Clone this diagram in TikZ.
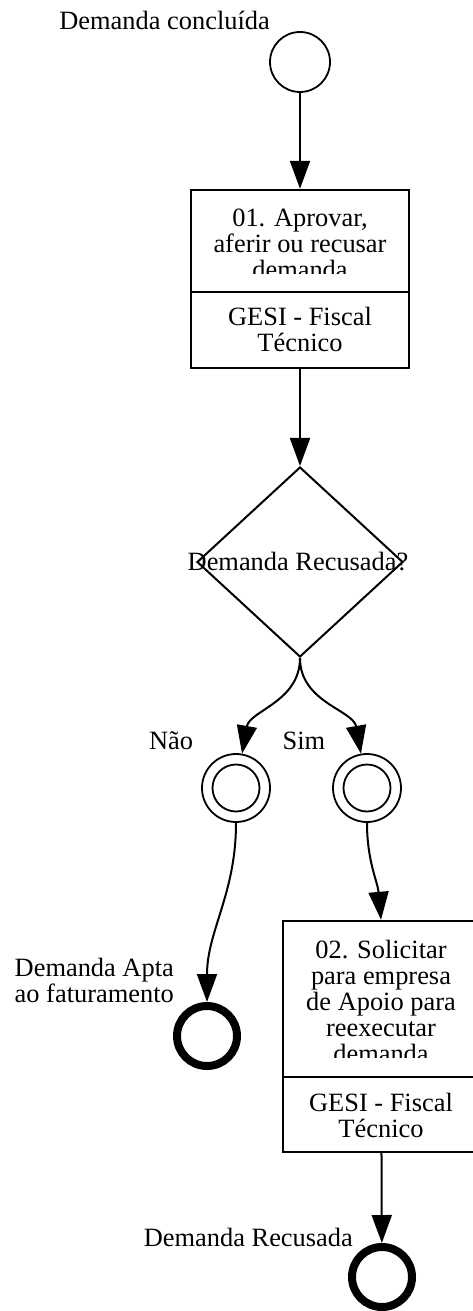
\documentclass[tikz,border=0pt]{standalone}
\usepackage{fontspec}
\setmainfont{Liberation Serif}
\usetikzlibrary{shapes.geometric,arrows.meta}
\tikzset{
  lbl/.style={font=\fontsize{26.4pt}{26pt}\selectfont, inner sep=0pt, align=center},
  startev/.style={circle, draw, line width=1.8pt, minimum size=60pt, inner sep=0pt},
  midev/.style={circle, draw, line width=1.8pt, minimum size=68pt, inner sep=0pt,
    path picture={\draw[line width=1.8pt] (path picture bounding box.center) circle (23.5pt);}},
  endev/.style={circle, draw, line width=8pt, minimum size=60pt, inner sep=0pt},
  task/.style={rectangle, draw, line width=2.4pt, inner sep=0pt},
  gateway/.style={diamond, draw, line width=2pt, minimum width=206pt, minimum height=190pt, inner sep=0pt},
  flow/.style={line width=2pt, -{Triangle[length=28pt,width=20pt]}}
}
\begin{document}
\begin{tikzpicture}[x=1pt,y=1pt]
\useasboundingbox (0,0) rectangle (473,-1311);
\node[startev] (start) at (300,-62) {};
\node[lbl, anchor=east] (lstart) at (270,-20) {Demanda concluída};
\node[task, minimum width=218pt, minimum height=178pt] (t1) at (300,-279) {};
\draw[line width=2.4pt] (191,-292) -- (409,-292);
\begin{scope}
\clip (191,-190) rectangle (409,-273);
\node[lbl] (t1name) at (300,-244) {01. Aprovar,\\aferir ou recusar\\demanda};
\end{scope}
\node[lbl] (t1role) at (300,-329) {GESI - Fiscal\\Técnico};
\node[gateway] (gw) at (300,-562) {};
\node[lbl] (gwname) at (298,-562) {Demanda Recusada?};
\node[midev] (nao) at (236,-788) {};
\node[midev] (sim) at (367,-788) {};
\node[lbl] (lnao) at (171,-741) {Não};
\node[lbl] (lsim) at (304,-741) {Sim};
\node[endev] (apta) at (207,-1036) {};
\node[lbl, anchor=east, align=right] (lapta) at (174,-980) {Demanda Apta\\ao faturamento};
\node[task, minimum width=196pt, minimum height=231pt] (t2) at (381,-1036.5) {};
\draw[line width=2.4pt] (283,-1077) -- (479,-1077);
\begin{scope}
\clip (283,-921) rectangle (479,-1057);
\node[lbl] (t2name) at (381,-1001) {02. Solicitar\\para empresa\\de Apoio para\\reexecutar\\demanda};
\end{scope}
\node[lbl] (t2role) at (381,-1115) {GESI - Fiscal\\Técnico};
\node[endev] (recusada) at (382,-1277) {};
\node[lbl, anchor=east] (lrecusada) at (353,-1237) {Demanda Recusada};
\draw[flow] (start) -- (t1);
\draw[flow] (t1) -- (gw);
\draw[flow] (gw.south) to[out=-90,in=80] (nao);
\draw[flow] (gw.south) to[out=-90,in=100] (sim);
\draw[flow] (nao) to[out=-90,in=90] (apta);
\draw[flow] (sim) to[out=-90,in=95] (t2.north);
\draw[flow] (t2) -- (recusada);
\end{tikzpicture}
\end{document}
